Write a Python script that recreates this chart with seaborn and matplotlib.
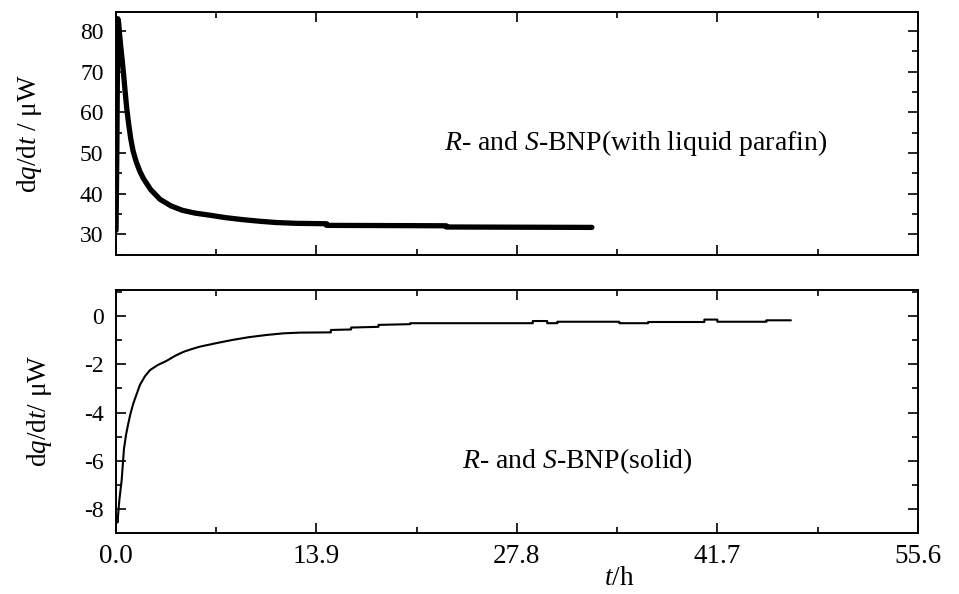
import matplotlib
matplotlib.use("Agg")
import matplotlib.pyplot as plt
import seaborn as sns
import pandas as pd
from matplotlib.ticker import MultipleLocator, FixedLocator

# --- datos ---
t_parafina = [0.00, 0.06, 0.12, 0.18, 0.25, 0.33, 0.42, 0.52, 0.62, 0.74, 0.88, 1.02,
              1.18, 1.40, 1.65, 1.90, 2.40, 3.05, 3.80, 4.60, 5.50, 6.50, 7.60, 8.80,
              10.0, 11.1, 12.5, 14.6, 14.6, 22.9, 22.9, 33.0]
q_parafina = [31.0, 52.0, 83.0, 82.0, 79.0, 76.0, 73.0, 69.5, 65.5, 61.0, 57.0, 53.5,
              50.5, 47.8, 45.5, 43.7, 41.0, 38.6, 37.0, 35.9, 35.2, 34.7, 34.1, 33.6,
              33.2, 32.9, 32.7, 32.6, 32.2, 32.1, 31.8, 31.7]

t_solido = [0.05, 0.10, 0.23, 0.39, 0.55, 0.70, 0.85, 1.00, 1.20, 1.45, 1.66, 2.00,
            2.36, 2.90, 3.50, 4.10, 4.66, 5.20, 5.82, 7.00, 8.10, 9.20, 10.4, 11.6,
            12.75, 14.9, 14.9, 16.3, 16.3, 18.2, 18.2, 20.4, 20.4, 28.9, 28.9, 29.9,
            29.9, 30.6, 30.6, 34.9, 34.9, 36.9, 36.9, 40.8, 40.8, 41.7, 41.7, 45.1,
            45.1, 46.8]
q_solido = [-8.3, -8.55, -7.62, -6.8, -5.5, -4.9, -4.45, -4.05, -3.62, -3.2, -2.85, -2.5,
            -2.24, -2.03, -1.86, -1.65, -1.49, -1.38, -1.27, -1.12, -0.99, -0.88, -0.79, -0.72,
            -0.69, -0.68, -0.58, -0.56, -0.48, -0.45, -0.37, -0.34, -0.30, -0.30, -0.21, -0.21,
            -0.30, -0.30, -0.24, -0.24, -0.30, -0.30, -0.25, -0.25, -0.15, -0.15, -0.24, -0.24,
            -0.18, -0.18]

x_ticks = [0.0, 13.9, 27.8, 41.7, 55.6]
x_labels = ["0.0", "13.9", "27.8", "41.7", "55.6"]

df_p = pd.DataFrame({"t": t_parafina, "q": q_parafina})
df_s = pd.DataFrame({"t": t_solido, "q": q_solido})

# --- estilo ---
sns.set_theme(style="ticks")
plt.rcParams["font.family"] = ["Liberation Serif", "DejaVu Serif"]
plt.rcParams["mathtext.fontset"] = "custom"
plt.rcParams["mathtext.rm"] = "Liberation Serif"
plt.rcParams["mathtext.it"] = "Liberation Serif:italic"
plt.rcParams["axes.unicode_minus"] = False
plt.rcParams["axes.linewidth"] = 1.4
plt.rcParams["axes.edgecolor"] = "black"
plt.rcParams["axes.labelcolor"] = "black"
plt.rcParams["text.color"] = "black"
plt.rcParams["xtick.color"] = "black"
plt.rcParams["ytick.color"] = "black"

fig = plt.figure(figsize=(9.59, 5.94), dpi=100)
ax1 = fig.add_axes([0.121, 0.571, 0.836, 0.409])
ax2 = fig.add_axes([0.121, 0.103, 0.836, 0.409])

sns.lineplot(data=df_p, x="t", y="q", ax=ax1, color="black", lw=3.8,
             estimator=None, sort=False)
sns.lineplot(data=df_s, x="t", y="q", ax=ax2, color="black", lw=1.5,
             estimator=None, sort=False)

for ax in (ax1, ax2):
    ax.set_xlim(0, 55.6)
    ax.xaxis.set_major_locator(FixedLocator(x_ticks))
    ax.xaxis.set_minor_locator(MultipleLocator(6.95))
    ax.tick_params(which="both", direction="in", top=True, right=True,
                   width=1.2, colors="black", labelcolor="black")
    ax.tick_params(which="major", length=7.5)
    ax.tick_params(which="minor", length=4)
    ax.tick_params(axis="y", labelsize=17, pad=9)
    ax.tick_params(axis="x", labelsize=19.5, pad=8)
    for s in ax.spines.values():
        s.set_visible(True)
        s.set_color("black")

ax1.set_ylim(24.96, 84.67)
ax1.yaxis.set_major_locator(MultipleLocator(10))
ax1.yaxis.set_minor_locator(MultipleLocator(5))
ax1.set_xticklabels([])
ax1.set_xlabel("")
ax1.set_ylabel(r"d$q$/d$t$ / μW", fontsize=19.5, color="black")
ax1.yaxis.set_label_coords(-0.090, 0.5)
ax1.text(36.0, 50.8, r"$R$- and $S$-BNP(with liquid parafin)", fontsize=20,
         ha="center", va="baseline", color="black")

ax2.set_ylim(-8.98, 1.08)
ax2.yaxis.set_major_locator(MultipleLocator(2))
ax2.yaxis.set_minor_locator(MultipleLocator(1))
ax2.set_xticks(x_ticks)
ax2.set_xticklabels(x_labels)
ax2.set_ylabel(r"d$q$/d$t$/ μW", fontsize=19.5, color="black")
ax2.yaxis.set_label_coords(-0.078, 0.5)
ax2.set_xlabel(r"$t$/h", fontsize=19.5, color="black")
ax2.xaxis.set_label_coords(0.628, -0.135)
ax2.text(32.0, -6.29, r"$R$- and $S$-BNP(solid)", fontsize=20,
         ha="center", va="baseline", color="black")

fig.savefig("out.png", dpi=100)
plt.close(fig)
